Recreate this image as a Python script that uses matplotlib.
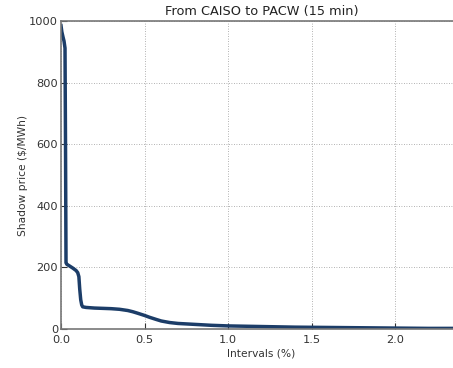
import matplotlib
matplotlib.use("Agg")
import matplotlib.pyplot as plt

# duration curve of shadow price
intervals = [0.0, 0.005, 0.012, 0.018, 0.024, 0.027, 0.03, 0.035, 0.05, 0.07, 0.09, 0.1, 0.107,
             0.112, 0.118, 0.124, 0.13, 0.15, 0.2, 0.25, 0.3, 0.35, 0.4, 0.43, 0.46, 0.5,
             0.53, 0.57, 0.6, 0.65, 0.7, 0.8, 0.9, 1.0, 1.1, 1.2, 1.4, 1.6, 1.8, 2.0, 2.2, 2.4]
price = [985, 965, 948, 935, 912, 600, 215, 210, 205, 198, 190, 183, 170,
         130, 95, 78, 72, 70, 68, 67, 66, 64, 60, 56, 51, 44,
         38, 31, 26, 21, 18, 15, 12, 10, 9, 8, 6, 5, 4, 3, 2, 2]

W, H = 453, 368
fig = plt.figure(figsize=(W / 100, H / 100), dpi=100)
ax = fig.add_axes([61 / W, 1 - 329 / H, 401 / W, 308 / H])

ax.plot(intervals, price, color="#1c3d68", linewidth=2.5, solid_joinstyle="round")

ax.set_xlim(0, 2.4)
ax.set_ylim(0, 1000)
ax.set_xticks([0.0, 0.5, 1.0, 1.5, 2.0])
ax.set_yticks([0, 200, 400, 600, 800, 1000])
ax.grid(True, linestyle=(0, (1, 2)), color="#999999", linewidth=0.6)
ax.tick_params(direction="in", labelsize=8.2, colors="#333333", length=4, pad=2)
ax.tick_params(axis="x", pad=4)
for s in ax.spines.values():
    s.set_color("#777777")
    s.set_linewidth(1.2)
ax.spines["right"].set_visible(False)

ax.set_title("From CAISO to PACW (15 min)", fontsize=9.3, color="#222222", pad=4)
ax.set_xlabel("Intervals (%)", fontsize=7.7, color="#333333", labelpad=3)
ax.set_ylabel("Shadow price ($/MWh)", fontsize=7.7, color="#333333", labelpad=1)

fig.savefig("out.png", dpi=100)
